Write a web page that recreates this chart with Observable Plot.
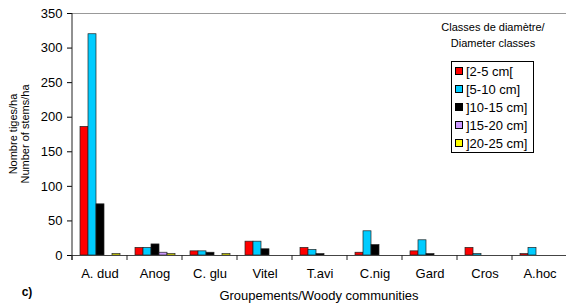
<!DOCTYPE html>
<html>
<head>
<meta charset="utf-8">
<script src="https://cdn.jsdelivr.net/npm/d3@7"></script>
<script src="https://cdn.jsdelivr.net/npm/@observablehq/plot@0.6"></script>
<style>
  body { margin: 0; background: #fff; }
  #wrap { position: relative; width: 566px; height: 307px; font-family: 'Liberation Sans', Arial, sans-serif; color: #000; overflow: hidden; }
  #wrap svg { position: absolute; left: 0; top: 0; overflow: visible; }
  .ltitle { position: absolute; left: 433px; top: 19px; width: 120px; text-align: center; font-size: 11px; line-height: 16px; }
  .lbox { position: absolute; left: 451px; top: 61px; width: 83px; height: 92px; box-sizing: border-box; border: 1px solid #000; background: #fff; }
  .litem { display: flex; align-items: center; height: 18px; font-size: 13px; white-space: nowrap; }
  .lsw { width: 8px; height: 8px; box-sizing: border-box; border: 1px solid #000; margin-left: 3px; margin-right: 3px; }
</style>
</head>
<body>
<div id="wrap"></div>
<script>
const categories = ["A. dud", "Anog", "C. glu", "Vitel", "T.avi", "C.nig", "Gard", "Cros", "A.hoc"];
const classes = ["[2-5 cm[", "[5-10 cm]", "]10-15 cm]", "]15-20 cm]", "]20-25 cm]"];
const d2_5   = [186, 11, 6, 20, 11, 4, 6, 11, 2];
const d5_10  = [320, 11, 6, 20, 8, 35, 22, 2, 11];
const d10_15 = [74, 16, 4, 9, 2, 15, 2, 0, 0];
const d15_20 = [0, 4, 0, 0, 0, 0, 0, 0, 0];
const d20_25 = [2, 2, 2, 0, 0, 0, 0, 0, 0];
const colors = ["#FF0000", "#00CCFF", "#000000", "#CC99FF", "#FFFF00"];
const yTicks = [0, 50, 100, 150, 200, 250, 300, 350];

const series = [d2_5, d5_10, d10_15, d15_20, d20_25];
const data = [];
categories.forEach((c, i) => classes.forEach((k, j) => data.push({cat: c, cls: k, v: series[j][i]})));

const font = "'Liberation Sans', Arial, sans-serif";
const chart = Plot.plot({
  width: 566,
  height: 307,
  marginLeft: 70,
  marginRight: -2,
  marginTop: 13,
  marginBottom: 52,
  style: {fontFamily: font, fontSize: "13px", color: "#000", background: "transparent"},
  fx: {domain: categories, padding: 0, label: null, tickSize: 0, tickPadding: 13},
  x: {domain: classes, paddingInner: 0, paddingOuter: 0.72, axis: null},
  y: {domain: [0, 350], ticks: yTicks, tickSize: 5, tickPadding: 5, label: null},
  color: {domain: classes, range: colors},
  marks: [
    Plot.ruleY([350], {stroke: "#999", strokeWidth: 1}),
    Plot.barY(data, {fx: "cat", x: "cls", y: "v", fill: "cls", stroke: "#222", strokeWidth: 0.7}),
    Plot.ruleY([0], {stroke: "#444", strokeWidth: 1})
  ]
});

const wrap = document.getElementById("wrap");
wrap.appendChild(chart);

const svg = d3.select(chart);
const fx = chart.scale("fx");
const y = chart.scale("y");
const y0 = y.apply(0);
const bounds = categories.map(c => fx.apply(c));
bounds.push(fx.apply(categories[categories.length - 1]) + fx.bandwidth);
const g = svg.append("g").attr("stroke", "#222").attr("stroke-width", 1);
bounds.forEach(b => g.append("line").attr("x1", b).attr("x2", b).attr("y1", y0).attr("y2", y0 + 5));
g.append("line").attr("x1", bounds[0]).attr("x2", bounds[0]).attr("y1", y.apply(350)).attr("y2", y0 + 5);

const yMid = (y.apply(0) + y.apply(350)) / 2;
const tg = svg.append("g").attr("font-family", font).attr("fill", "#000");
tg.append("text").attr("transform", `translate(16.5,${yMid}) rotate(-90)`).attr("text-anchor", "middle")
  .attr("font-size", 11).text("Nombre tiges/ha");
tg.append("text").attr("transform", `translate(29,${yMid}) rotate(-90)`).attr("text-anchor", "middle")
  .attr("font-size", 11).text("Number of stems/ha");
tg.append("text").attr("x", (bounds[0] + 566) / 2).attr("y", 300).attr("text-anchor", "middle")
  .attr("font-size", 13).text("Groupements/Woody communities");
tg.append("text").attr("x", 27).attr("y", 296).attr("font-size", 12).attr("font-weight", "bold").text("c)");

const lt = document.createElement("div");
lt.className = "ltitle";
lt.innerHTML = "Classes de diamètre/<br>Diameter classes";
wrap.appendChild(lt);
const box = document.createElement("div");
box.className = "lbox";
classes.forEach((k, j) => {
  const row = document.createElement("div");
  row.className = "litem";
  const sw = document.createElement("span");
  sw.className = "lsw";
  sw.style.background = colors[j];
  const t = document.createElement("span");
  t.textContent = k;
  row.appendChild(sw); row.appendChild(t);
  box.appendChild(row);
});
wrap.appendChild(box);
</script>
</body>
</html>
